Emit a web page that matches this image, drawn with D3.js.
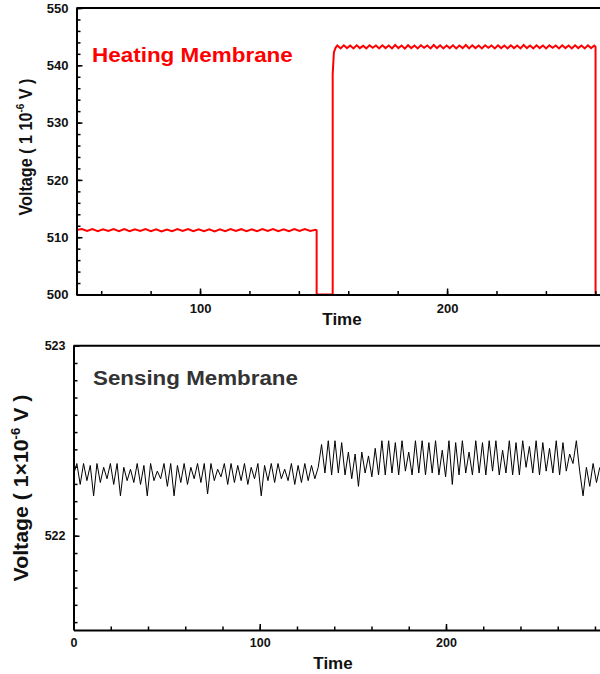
<!DOCTYPE html>
<html>
<head>
<meta charset="utf-8">
<script src="https://cdn.jsdelivr.net/npm/d3@7"></script>
<style>
  body { margin: 0; background: #fff; }
  svg { display: block; }
  text { font-family: "Liberation Sans", Arial, sans-serif; font-weight: bold; }
</style>
</head>
<body>
<svg id="chart" width="600" height="674"></svg>
<script>
// heating membrane: two plateaus sampled at a fixed step, joined by the switching edges
var heatLowStart = 50, heatLowStep = 2.15;
var heatLow = [
  511.25, 511.42, 511.08, 511.40, 511.05, 511.38, 511.10, 511.42, 511.06, 511.40,
  511.04, 511.36, 511.08, 511.40, 511.05, 511.38, 511.02, 511.35, 511.05, 511.40,
  511.08, 511.42, 511.06, 511.38, 511.04, 511.36, 511.02, 511.38, 511.05, 511.42,
  511.10, 511.40, 511.06, 511.38, 511.04, 511.40, 511.08, 511.42, 511.06, 511.36,
  511.04, 511.40, 511.08, 511.42, 511.10, 511.30
];
var heatSwitch = [[147.2, 511.2], [147.2, 500], [153.7, 500], [153.7, 538.5], [154.2, 542.3], [154.9, 543.1]];
var heatHighStart = 155.6, heatHighStep = 1.3;
var heatHigh = [
  543.45, 542.95, 543.50, 543.00, 543.45, 542.95, 543.50, 543.00, 543.40, 542.95,
  543.50, 543.05, 543.45, 542.95, 543.50, 543.00, 543.45, 542.95, 543.55, 543.00,
  543.45, 542.90, 543.50, 543.00, 543.45, 542.95, 543.50, 543.05, 543.45, 542.95,
  543.55, 543.00, 543.50, 542.95, 543.45, 543.00, 543.50, 542.95, 543.45, 543.00,
  543.55, 542.95, 543.50, 543.00, 543.45, 542.95, 543.50, 543.05, 543.45, 542.95,
  543.50, 543.00, 543.45, 542.95, 543.50, 543.00, 543.45, 542.95, 543.55, 543.00,
  543.45, 542.95, 543.50, 543.00, 543.45, 542.95, 543.50, 543.05, 543.45, 542.95,
  543.50, 543.00, 543.45, 542.95, 543.50, 543.00, 543.45, 542.95, 543.50, 543.00,
  543.45
];
var heatEnd = [[260.1, 543.2], [260.1, 500]];

// sensing membrane, one sample every 1.8 time units from t = 0
var sensStep = 1.8;
var sensBefore = [
  522.32, 522.38, 522.27, 522.38, 522.29, 522.37, 522.21, 522.38, 522.28, 522.36,
  522.30, 522.38, 522.27, 522.38, 522.21, 522.36, 522.29, 522.35, 522.28, 522.38,
  522.27, 522.37, 522.21, 522.38, 522.29, 522.34, 522.30, 522.38, 522.26, 522.38,
  522.21, 522.37, 522.28, 522.38, 522.27, 522.36, 522.30, 522.38, 522.28, 522.38,
  522.22, 522.38, 522.29, 522.35, 522.31, 522.38, 522.27, 522.38, 522.28, 522.37,
  522.29, 522.38, 522.27, 522.36, 522.30, 522.38, 522.21, 522.37, 522.29, 522.38,
  522.28, 522.38, 522.30, 522.35, 522.29, 522.38, 522.27, 522.37, 522.28, 522.38,
  522.29, 522.37, 522.30
];
var sensDuring = [
  522.36, 522.48, 522.33, 522.50, 522.32, 522.50, 522.33, 522.49, 522.32, 522.44,
  522.30, 522.43, 522.26, 522.44, 522.33, 522.42, 522.31, 522.46, 522.32, 522.50,
  522.32, 522.50, 522.33, 522.49, 522.32, 522.50, 522.34, 522.44, 522.32, 522.50,
  522.33, 522.50, 522.32, 522.49, 522.33, 522.50, 522.32, 522.45, 522.31, 522.50,
  522.27, 522.49, 522.32, 522.50, 522.33, 522.44, 522.32, 522.50, 522.33, 522.49,
  522.32, 522.50, 522.34, 522.50, 522.32, 522.45, 522.33, 522.50, 522.32, 522.49,
  522.32, 522.50, 522.36, 522.47, 522.33, 522.50, 522.32, 522.49, 522.34, 522.46,
  522.33, 522.50, 522.32, 522.49, 522.34, 522.43, 522.38, 522.50, 522.34
];
var sensAfter = [522.21, 522.36, 522.26, 522.38, 522.28, 522.36];

var heatXTicks = [100, 200], heatYTicks = [500, 510, 520, 530, 540, 550];
var sensXTicks = [0, 100, 200], sensYTicks = [522, 523];

var svg = d3.select("#chart");

function sampled(start, step, values) {
  return values.map(function(v, i) { return [start + i * step, v]; });
}

var heatData = sampled(heatLowStart, heatLowStep, heatLow)
  .concat(heatSwitch)
  .concat(sampled(heatHighStart, heatHighStep, heatHigh))
  .concat(heatEnd);
var sensValues = sensBefore.concat(sensDuring).concat(sensAfter);
var sensData = sampled(0, sensStep, sensValues);

// stretch a text node along x so it spans the given width
function fitWidth(t, x, y, width) {
  var natural = t.node().getComputedTextLength();
  t.attr("transform", "translate(" + x + "," + y + ") scale(" + (width / natural) + ",1)");
}

function panel(p) {
  var g = svg.append("g");
  var x = p.x, y = p.y;
  var left = x.range()[0], right = x.range()[1];
  var top = y.range()[1], bottom = y.range()[0];

  // trace goes underneath the axes so the part lying on 500 is hidden
  var line = d3.line().x(function(d) { return x(d[0]); }).y(function(d) { return y(d[1]); });
  g.append("path").datum(p.data)
    .attr("d", line)
    .attr("fill", "none")
    .attr("stroke", p.color)
    .attr("stroke-width", p.width);

  g.append("g").attr("transform", "translate(0," + bottom + ")")
    .call(d3.axisBottom(x).tickValues(p.xMinor).tickSize(-3.5).tickFormat(""))
    .call(function(a) { a.select(".domain").remove(); a.selectAll("line").attr("stroke-width", 1.5); });
  g.append("g").attr("transform", "translate(" + left + ",0)")
    .call(d3.axisLeft(y).tickValues(p.yMinor).tickSize(-4).tickFormat(""))
    .call(function(a) { a.select(".domain").remove(); a.selectAll("line").attr("stroke-width", 1.5); });

  var xa = g.append("g").attr("transform", "translate(0," + bottom + ")")
    .call(d3.axisBottom(x).tickValues(p.xTicks).tickSize(-6).tickSizeOuter(0)
      .tickPadding(p.xPad).tickFormat(d3.format("d")));
  var ya = g.append("g").attr("transform", "translate(" + left + ",0)")
    .call(d3.axisLeft(y).tickValues(p.yTicks).tickSize(-6).tickSizeOuter(0)
      .tickPadding(p.yPad).tickFormat(d3.format("d")));
  [xa, ya].forEach(function(a) {
    a.select(".domain").attr("stroke-width", 2);
    a.selectAll(".tick line").attr("stroke-width", 1.5);
    a.selectAll("text").attr("font-size", p.tickFont).attr("font-family", null).attr("fill", "#111");
  });

  g.append("line").attr("x1", left).attr("x2", right).attr("y1", top).attr("y2", top)
    .attr("stroke", "#000").attr("stroke-width", 2);

  var name = g.append("text").attr("font-size", 20).attr("fill", p.nameColor).text(p.name);
  fitWidth(name, p.nameX, p.nameY, p.nameW);

  g.append("text").attr("x", p.timeX).attr("y", p.timeY)
    .attr("text-anchor", "middle").attr("font-size", 17).attr("fill", "#111").text("Time");

  // rotated y title, squeezed along its length
  var t = g.append("text").attr("text-anchor", "middle").attr("font-size", p.titleFont).attr("fill", "#111");
  t.append("tspan").text(p.titleHead);
  t.append("tspan").attr("font-size", p.titleFont * 0.62).attr("dy", -p.titleFont * 0.42).text("-6");
  t.append("tspan").attr("dy", p.titleFont * 0.42).text(" V )");
  var natural = t.node().getComputedTextLength();
  t.attr("transform", "translate(" + p.titleX + "," + p.titleY + ") rotate(-90) scale(" + (p.titleLen / natural) + ",1)");
}

panel({
  x: d3.scaleLinear().domain([50, 261.9]).range([76.5, 600]),
  y: d3.scaleLinear().domain([500, 550]).range([294.5, 8]),
  xTicks: heatXTicks, yTicks: heatYTicks,
  xMinor: d3.range(60, 262, 20), yMinor: d3.range(500, 551, 2),
  xPad: 9, yPad: 8, tickFont: 13,
  data: heatData, color: "#ff0000", width: 2,
  name: "Heating Membrane", nameColor: "#ff0000", nameX: 92, nameY: 62, nameW: 201,
  timeX: 342, timeY: 325,
  titleHead: "Voltage ( 1  10", titleFont: 19, titleX: 32, titleY: 147, titleLen: 137
});

panel({
  x: d3.scaleLinear().domain([0, 282.7]).range([73.5, 600]),
  y: d3.scaleLinear().domain([521.504, 523]).range([630, 345.7]),
  xTicks: sensXTicks, yTicks: sensYTicks,
  xMinor: d3.range(20, 283, 20), yMinor: d3.range(0, 17).map(function(k) { return 523 - k / 11; }),
  xPad: 8, yPad: 8, tickFont: 12.5,
  data: sensData, color: "#000", width: 1,
  name: "Sensing Membrane", nameColor: "#333", nameX: 93, nameY: 385, nameW: 205,
  timeX: 333, timeY: 669,
  titleHead: "Voltage ( 1\u00d710", titleFont: 20, titleX: 28, titleY: 488, titleLen: 187
});
</script>
</body>
</html>
